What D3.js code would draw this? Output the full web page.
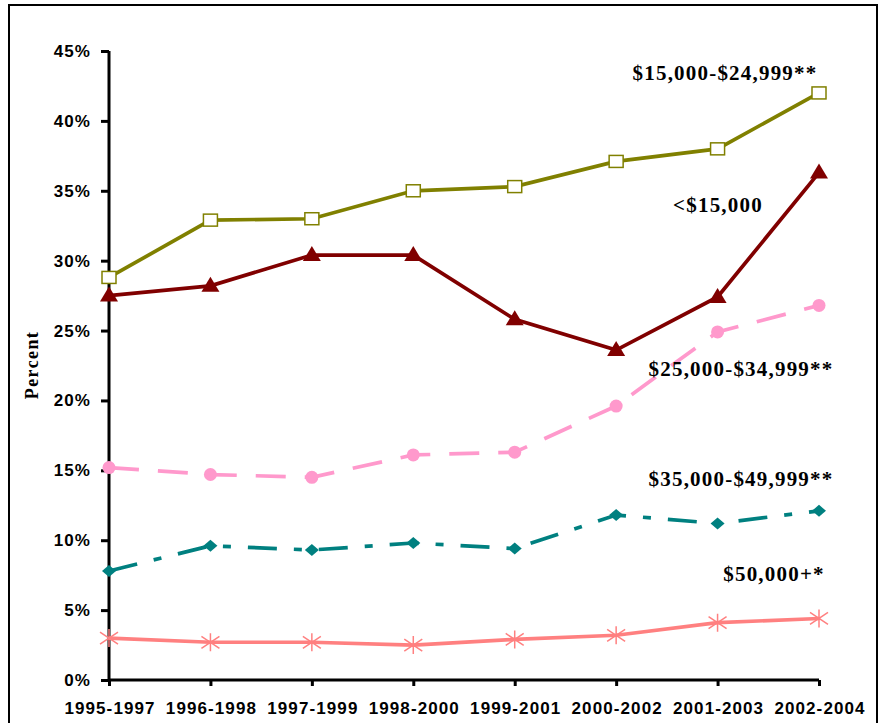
<!doctype html>
<html>
<head>
<meta charset="utf-8">
<title>Percent by income</title>
<script src="https://cdn.jsdelivr.net/npm/d3@7"></script>
<style>
  body { margin: 0; background: #fff; }
  .tick text { font-family: "Liberation Sans", Arial, sans-serif; font-weight: bold; font-size: 17px; letter-spacing: 1.1px; fill: #000; }
  .lbl { font-family: "Liberation Serif", "Times New Roman", serif; font-weight: bold; font-size: 21px; letter-spacing: 1.2px; fill: #000; }
</style>
</head>
<body>
<svg id="chart" width="880" height="723"></svg>
<script>
  const periods = ['1995-1997', '1996-1998', '1997-1999', '1998-2000', '1999-2001', '2000-2002', '2001-2003', '2002-2004'];

  const under15 = [27.5, 28.2, 30.4, 30.4, 25.8, 23.6, 27.4, 36.3];
  const inc15to25 = [28.8, 32.9, 33.0, 35.0, 35.3, 37.1, 38.0, 42.0];
  const inc25to35 = [15.2, 14.7, 14.5, 16.1, 16.3, 19.6, 24.9, 26.8];
  const inc35to50 = [7.8, 9.6, 9.3, 9.8, 9.4, 11.8, 11.2, 12.1];
  const over50 = [3.0, 2.7, 2.7, 2.5, 2.9, 3.2, 4.1, 4.4];

  const yTicks = [0, 5, 10, 15, 20, 25, 30, 35, 40, 45];

  const series = [
    { name: '$15,000-$24,999**', values: inc15to25, color: '#808000', dash: null, marker: 'square', lx: 725, ly: 80 },
    { name: '<$15,000', values: under15, color: '#800000', dash: null, marker: 'triangle', lx: 718, ly: 212 },
    { name: '$25,000-$34,999**', values: inc25to35, color: '#ff99cc', dash: '30 19', marker: 'circle', lx: 741, ly: 376 },
    { name: '$35,000-$49,999**', values: inc35to50, color: '#008080', dash: '29 17 8 17', marker: 'diamond', lx: 741, ly: 486 },
    { name: '$50,000+*', values: over50, color: '#ff8080', dash: null, marker: 'star', lx: 774, ly: 581 }
  ];

  const svg = d3.select('#chart');

  // outer frame
  svg.append('rect')
    .attr('x', 9).attr('y', 5)
    .attr('width', 868).attr('height', 730)
    .attr('fill', 'none').attr('stroke', '#000').attr('stroke-width', 2);

  const x = d3.scalePoint().domain(periods).range([109, 819]);
  const y = d3.scaleLinear().domain([0, 45]).range([680, 51]);

  const yAxis = svg.append('g')
    .attr('transform', 'translate(109,0)')
    .call(d3.axisLeft(y).tickValues(yTicks).tickSize(8).tickPadding(10).tickFormat(d => d + '%'));

  const xAxis = svg.append('g')
    .attr('transform', 'translate(0,680)')
    .call(d3.axisBottom(x).tickSize(6).tickPadding(16));

  [yAxis, xAxis].forEach(g => {
    g.select('.domain').attr('stroke', '#000').attr('stroke-width', 3);
    g.selectAll('.tick line').attr('stroke', '#000').attr('stroke-width', 3);
  });
  yAxis.select('.domain').attr('d', 'M0,681.5V51');
  xAxis.select('.domain').attr('d', 'M109,0H819');
  xAxis.selectAll('.tick text').attr('dx', '0.5px');

  svg.append('text')
    .attr('class', 'lbl')
    .attr('transform', 'translate(38,365) rotate(-90)')
    .attr('text-anchor', 'middle')
    .style('font-size', '18px')
    .style('letter-spacing', '1.4px')
    .text('Percent');

  const line = d3.line()
    .x((d, i) => x(periods[i]))
    .y(d => y(d));

  series.forEach(s => {
    svg.append('path')
      .datum(s.values)
      .attr('fill', 'none')
      .attr('stroke', s.color)
      .attr('stroke-width', 3.7)
      .attr('stroke-dasharray', s.dash)
      .attr('d', line);

    const m = svg.append('g').selectAll('g')
      .data(s.values)
      .join('g')
      .attr('transform', (d, i) => `translate(${x(periods[i])},${y(d)})`);

    if (s.marker === 'square') {
      m.append('rect').attr('x', -7).attr('y', -6).attr('width', 14).attr('height', 12)
        .attr('fill', '#fff').attr('stroke', s.color).attr('stroke-width', 1.5);
    } else if (s.marker === 'triangle') {
      m.append('path').attr('d', 'M0,-9L9,6L-9,6Z').attr('fill', s.color);
    } else if (s.marker === 'circle') {
      m.append('circle').attr('r', 6.5).attr('fill', s.color);
    } else if (s.marker === 'diamond') {
      m.append('path').attr('d', 'M0,-6L7,0L0,6L-7,0Z').attr('fill', s.color);
    } else if (s.marker === 'star') {
      m.append('path').attr('d', 'M-9,-6L9,6M-9,6L9,-6M0,-9V9')
        .attr('stroke', s.color).attr('stroke-width', 1.5);
    }

    svg.append('text')
      .attr('class', 'lbl')
      .attr('x', s.lx).attr('y', s.ly)
      .attr('text-anchor', 'middle')
      .text(s.name);
  });
</script>
</body>
</html>
